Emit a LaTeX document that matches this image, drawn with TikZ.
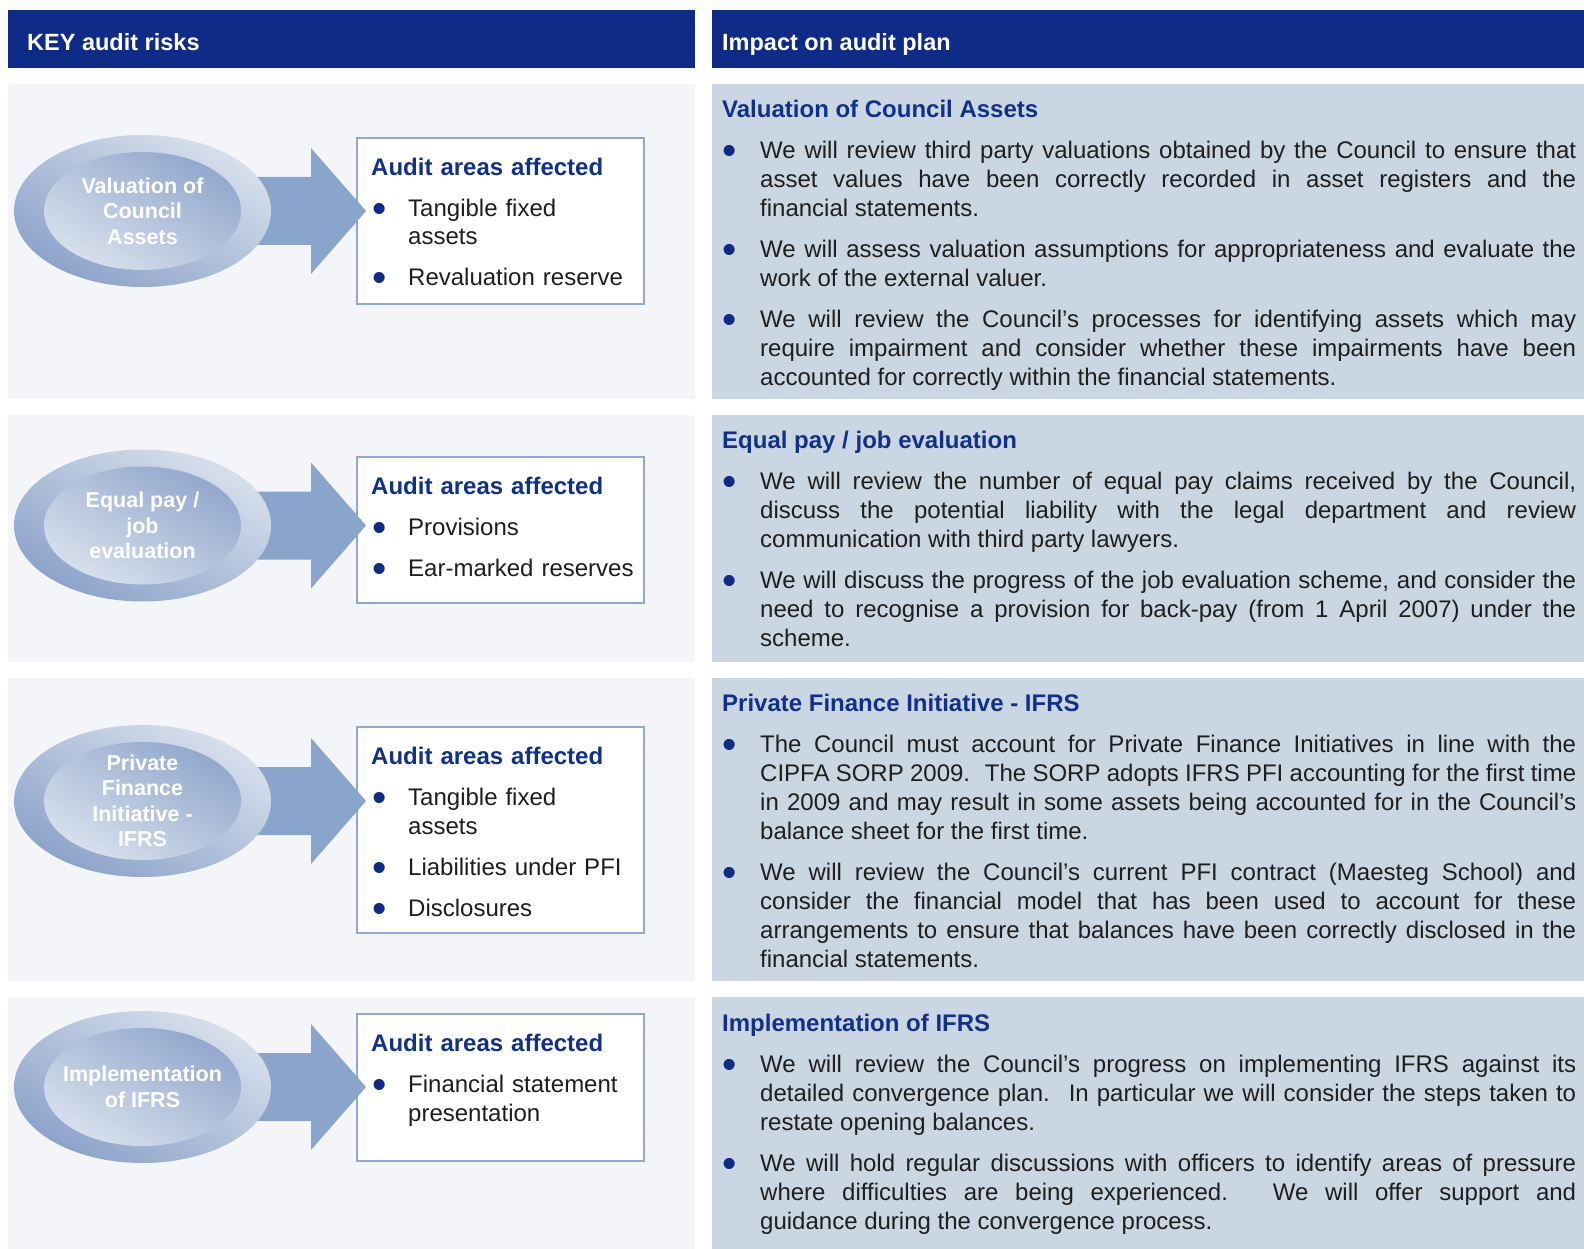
\documentclass[tikz,border=0pt]{standalone}
\usepackage{fontspec}
\setmainfont{Liberation Sans}
\usepackage{graphicx}
\usetikzlibrary{calc,shapes.geometric}

\definecolor{navy}{HTML}{0E2C87}
\definecolor{titleblue}{HTML}{10318A}
\definecolor{panelL}{HTML}{F3F5F9}
\definecolor{panelR}{HTML}{CBD6E3}
\definecolor{arrowc}{HTML}{8AA5CC}
\definecolor{ellDark}{HTML}{8CA3CA}
\definecolor{ellLight}{HTML}{D7E0EC}
\definecolor{boxline}{HTML}{8EAAD2}
\definecolor{bodytext}{HTML}{1E1E1E}

% round list marker
\newcommand\bdot{\textcolor{navy}{\raisebox{-6pt}{\scalebox{1.7}{•}}}}
% bullet paragraph for the plan column
\newcommand\planitem[1]{\par\noindent\hangindent=38pt\hangafter=1\makebox[38pt][l]{\hspace*{7pt}\makebox[0pt][c]{\bdot}}#1\par}
% bullet paragraph for the "audit areas" boxes
\newcommand\areaitem[1]{\par\noindent\hangindent=37pt\hangafter=1\makebox[37pt][l]{\hspace*{8pt}\makebox[0pt][c]{\bdot}}#1\par}
% keep words whole in the narrow boxes
\newcommand\nohyph{\hyphenpenalty 10000\exhyphenpenalty 10000\relax}

\tikzset{
  header/.style={fill=navy, draw=none, inner sep=0pt, minimum height=58pt, anchor=north west},
  headtext/.style={text=white, font=\fontsize{23.5}{28}\selectfont\bfseries, inner sep=0pt, anchor=base west},
  lpanel/.style={fill=panelL, draw=none, inner sep=0pt, minimum width=687pt, anchor=north west},
  rpanel/.style={fill=panelR, draw=none, inner sep=0pt, minimum width=872pt, anchor=north west},
  outerell/.style={ellipse, draw=none, inner sep=0pt, minimum width=257pt, minimum height=152pt,
    top color=ellLight, bottom color=ellDark, shading angle=-30},
  innerell/.style={ellipse, draw=none, inner sep=0pt, minimum width=197pt, minimum height=118pt,
    top color=ellDark!95!white, bottom color=ellLight, shading angle=-30},
  elltext/.style={text=white, font=\fontsize{21.5}{25.5}\selectfont\bfseries, align=center, inner sep=0pt},
  areabox/.style={draw=boxline, line width=2pt, fill=white, inner sep=0pt, minimum width=287pt, anchor=north west},
  areatext/.style={text=bodytext, inner sep=0pt, anchor=base west, text width=272pt, align=left,
    font=\fontsize{24}{28.5}\selectfont\setlength{\parskip}{12.5pt}\nohyph},
  plantext/.style={text=bodytext, inner sep=0pt, anchor=base west, text width=854pt, align=justify,
    font=\fontsize{24}{29}\selectfont\setlength{\parskip}{12pt}},
  bigarrow/.style={fill=arrowc, draw=none},
}

\newcommand\areahead{{\bfseries\color{titleblue}Audit areas affected}\par}

\begin{document}
\begin{tikzpicture}[x=1pt, y=-1pt]
\useasboundingbox[fill=white] (0,0) rectangle (1584,1249);

% column headers
\node[header, minimum width=687pt] (hl) at (8,10) {};
\node[header, minimum width=872pt] (hr) at (712,10) {};
\node[headtext] (hlt) at (27,51) {KEY audit risks};
\node[headtext] (hrt) at (722,51) {Impact on audit plan};

% row backgrounds
\node[lpanel, minimum height=315pt] (l1) at (8,84) {};
\node[rpanel, minimum height=315pt] (r1) at (712,84) {};
\node[lpanel, minimum height=247pt] (l2) at (8,415) {};
\node[rpanel, minimum height=247pt] (r2) at (712,415) {};
\node[lpanel, minimum height=303pt] (l3) at (8,678) {};
\node[rpanel, minimum height=303pt] (r3) at (712,678) {};
\node[lpanel, minimum height=252pt] (l4) at (8,997) {};
\node[rpanel, minimum height=252pt] (r4) at (712,997) {};

% risk centres
\coordinate (c1) at (142.5,211);
\coordinate (c2) at (142.5,525.5);
\coordinate (c3) at (142.5,801);
\coordinate (c4) at (142.5,1087);

% audit area boxes
\node[areabox, minimum height=166pt] (b1) at (356,137) {};
\node[areabox, minimum height=146pt] (b2) at (356,456) {};
\node[areabox, minimum height=206pt] (b3) at (356,726) {};
\node[areabox, minimum height=147pt] (b4) at (356,1013) {};

\node[areatext] (t1) at ($(b1.north west)+(15,38.5)$) {\areahead
  \areaitem{Tangible fixed\newline assets}
  \areaitem{Revaluation reserve}};
\node[areatext] (t2) at ($(b2.north west)+(15,38.5)$) {\areahead
  \areaitem{Provisions}
  \areaitem{Ear-marked reserves}};
\node[areatext] (t3) at ($(b3.north west)+(15,38.5)$) {\areahead
  \areaitem{Tangible fixed\newline assets}
  \areaitem{Liabilities under PFI}
  \areaitem{Disclosures}};
\node[areatext] (t4) at ($(b4.north west)+(15,38.5)$) {\areahead
  \areaitem{Financial statement\newline presentation}};

% block arrows from each risk to its box
\foreach \c/\b in {c1/b1, c2/b2, c3/b3, c4/b4}{
  \fill[bigarrow] ($(\c)+(80,-34)$) -- ($(\b.west|-\c)+(-45,-34)$) -- ($(\b.west|-\c)+(-45,-63)$)
    -- ($(\b.west|-\c)+(10,0)$) -- ($(\b.west|-\c)+(-45,63)$) -- ($(\b.west|-\c)+(-45,34)$)
    -- ($(\c)+(80,34)$) -- cycle;
}

% risk ellipses
\foreach \c in {c1,c2,c3,c4}{
  \node[outerell] (\c o) at (\c) {};
  \node[innerell] (\c i) at (\c) {};
}
\node[elltext] (e1) at (c1) {Valuation of\\Council\\Assets};
\node[elltext] (e2) at (c2) {Equal pay /\\job\\evaluation};
\node[elltext] (e3) at (c3) {Private\\Finance\\Initiative -\\IFRS};
\node[elltext] (e4) at (c4) {Implementation\\of IFRS};

% audit plan text
\node[plantext] (p1) at ($(r1.north west)+(10,34)$) {{\bfseries\color{titleblue}Valuation of Council Assets}\par
  \planitem{We will review third party valuations obtained by the Council to ensure that\linebreak
    asset values have been correctly recorded in asset registers and the\linebreak
    financial statements.}
  \planitem{We will assess valuation assumptions for appropriateness and evaluate the\linebreak
    work of the external valuer.}
  \planitem{We will review the Council’s processes for identifying assets which may\linebreak
    require impairment and consider whether these impairments have been\linebreak
    accounted for correctly within the financial statements.}};

\node[plantext] (p2) at ($(r2.north west)+(10,33.5)$) {{\bfseries\color{titleblue}Equal pay / job evaluation}\par
  \planitem{We will review the number of equal pay claims received by the Council,\linebreak
    discuss the potential liability with the legal department and review\linebreak
    communication with third party lawyers.}
  \planitem{We will discuss the progress of the job evaluation scheme, and consider the\linebreak
    need to recognise a provision for back-pay (from 1 April 2007) under the\linebreak
    scheme.}};

\node[plantext] (p3) at ($(r3.north west)+(10,33.5)$) {{\bfseries\color{titleblue}Private Finance Initiative - IFRS}\par
  \planitem{The Council must account for Private Finance Initiatives in line with the\linebreak
    CIPFA SORP 2009.\hspace{0.25em} The SORP adopts IFRS PFI accounting for the first time\linebreak
    in 2009 and may result in some assets being accounted for in the Council’s\linebreak
    balance sheet for the first time.}
  \planitem{We will review the Council’s current PFI contract (Maesteg School) and\linebreak
    consider the financial model that has been used to account for these\linebreak
    arrangements to ensure that balances have been correctly disclosed in the\linebreak
    financial statements.}};

\node[plantext] (p4) at ($(r4.north west)+(10,34.5)$) {{\bfseries\color{titleblue}Implementation of IFRS}\par
  \planitem{We will review the Council’s progress on implementing IFRS against its\linebreak
    detailed convergence plan.\hspace{0.25em} In particular we will consider the steps taken to\linebreak
    restate opening balances.}
  \planitem{We will hold regular discussions with officers to identify areas of pressure\linebreak
    where difficulties are being experienced.\hspace{0.25em} We will offer support and\linebreak
    guidance during the convergence process.}};
\end{tikzpicture}
\end{document}
